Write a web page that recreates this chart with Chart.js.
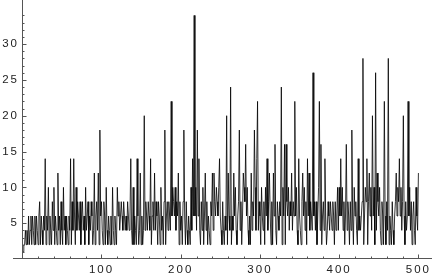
<!DOCTYPE html>
<html>
<head>
  <title>Sequence plot</title>
  <style>
    body { margin: 0; background: #fff; }
  </style>
  <script src="https://cdn.jsdelivr.net/npm/chart.js"></script>
</head>
<body>
  <canvas id="chart" width="432" height="274"></canvas>
  <script>
    // values, 50 per row (n = 1..500)
    const vals1 = [1,2,2,4,2,4,2,6,2,4, 6,2,6,4,2,6,2,6,4,2, 6,8,2,6,4,2,6,4,14,2, 6,4,10,2,6,4,2,8,4,10, 2,6,4,2,12,4,6,2,8,4];
    const vals2 = [2,10,4,6,2,6,4,2,6,4, 14,2,8,4,14,6,2,10,4,8, 6,4,8,2,6,8,4,6,2,10, 4,6,8,2,6,4,8,6,2,4, 12,2,6,8,4,12,2,18,6,8];
    const vals3 = [4,2,8,6,2,10,4,2,6,4, 2,6,2,10,4,2,6,4,2,10, 6,8,4,6,8,6,4,8,6,4, 6,4,8,6,4,6,14,4,2,10, 2,6,4,2,14,6,2,4,12,2];
    const vals4 = [6,2,4,20,4,8,6,4,8,6, 4,14,2,6,8,4,12,4,8,6, 2,8,6,2,10,4,6,2,8,18, 2,6,8,4,8,6,4,22,6,10, 8,6,10,4,8,6,12,2,8,4];
    const vals5 = [6,2,8,18,6,2,8,4,2,6, 4,2,10,4,14,6,34,6,10,4, 18,6,14,4,2,8,4,10,2,6, 12,4,8,2,6,4,2,8,6,12, 4,12,8,6,10,8,6,10,14,6];
    const vals6 = [4,2,8,4,2,6,4,20,2,12, 6,4,24,2,6,4,12,6,10,4, 2,6,8,18,4,8,2,6,12,10, 8,16,6,10,4,2,6,2,12,4, 8,6,18,10,4,14,22,4,8,6];
    const vals7 = [2,10,6,4,8,2,10,6,14,4, 8,12,6,2,8,2,12,6,16,4, 2,8,6,4,8,6,24,2,10,6, 16,2,16,8,6,10,4,8,6,12, 4,8,6,22,6,10,4,2,14,6];
    const vals8 = [4,2,8,12,6,10,4,8,2,14, 6,12,4,8,6,4,26,6,8,4, 8,2,6,10,22,4,16,2,6,8, 4,14,6,2,4,8,6,4,8,6, 4,8,6,2,8,4,6,10,4,10];
    const vals9 = [6,14,6,10,4,8,2,6,16,4, 8,6,2,8,4,18,6,2,10,6, 8,4,2,14,4,6,4,6,8,28, 2,6,10,8,14,2,8,12,6,10, 4,20,6,10,2,26,4,12,8,6];
    const vals10 = [10,4,2,8,6,2,22,6,2,8, 4,28,2,6,4,2,8,4,2,6, 8,12,6,10,8,14,6,10,4,8, 20,6,2,8,4,6,22,6,10,4, 8,2,6,8,4,2,10,6,4,12];
    const values = [].concat(vals1, vals2, vals3, vals4, vals5, vals6, vals7, vals8, vals9, vals10);

    const xTicks = [100, 200, 300, 400, 500];
    const yTicks = [5, 10, 15, 20, 25, 30];
    const xMinor = [20, 40, 60, 80, 120, 140, 160, 180, 220, 240, 260, 280, 320, 340, 360, 380, 420, 440, 460, 480];
    const yMinor = [1, 2, 3, 4, 6, 7, 8, 9, 11, 12, 13, 14, 16, 17, 18, 19, 21, 22, 23, 24, 26, 27, 28, 29, 31, 32, 33, 34];

    const points = values.map((v, i) => ({x: i + 1, y: v}));

    // Mathematica-like axes crossing at the origin, ticks pointing inward
    const axesPlugin = {
      id: 'mmaAxes',
      beforeDraw(chart) {
        chart.ctx.letterSpacing = '2px';
      },
      afterDatasetsDraw(chart) {
        const ctx = chart.ctx;
        const xs = chart.scales.x, ys = chart.scales.y;
        const x0 = Math.round(xs.getPixelForValue(0)) + 0.5;
        const y0 = Math.round(ys.getPixelForValue(0)) - 0.5;
        ctx.save();
        ctx.strokeStyle = '#555';
        ctx.lineWidth = 1;
        ctx.beginPath();
        ctx.moveTo(13, y0); ctx.lineTo(chart.width, y0);
        ctx.moveTo(x0, 0); ctx.lineTo(x0, y0);
        xTicks.forEach(t => {
          const px = Math.round(xs.getPixelForValue(t)) + 0.5;
          ctx.moveTo(px, y0); ctx.lineTo(px, y0 - 4);
        });
        xMinor.forEach(t => {
          const px = Math.round(xs.getPixelForValue(t)) + 0.5;
          ctx.moveTo(px, y0); ctx.lineTo(px, y0 - 2);
        });
        yTicks.forEach(t => {
          const py = Math.round(ys.getPixelForValue(t)) + 0.5;
          ctx.moveTo(x0, py); ctx.lineTo(x0 + 4, py);
        });
        yMinor.forEach(t => {
          const py = Math.round(ys.getPixelForValue(t)) + 0.5;
          ctx.moveTo(x0, py); ctx.lineTo(x0 + 2, py);
        });
        ctx.stroke();
        ctx.restore();
      }
    };

    const tickFont = {family: 'Liberation Sans', size: 11.5};

    new Chart(document.getElementById('chart').getContext('2d'), {
      type: 'line',
      data: {
        datasets: [{
          data: points,
          borderColor: '#000',
          borderWidth: 0.8,
          pointRadius: 0,
          tension: 0,
          fill: false
        }]
      },
      options: {
        responsive: false,
        animation: false,
        layout: {padding: 0},
        plugins: {legend: {display: false}, tooltip: {enabled: false}},
        scales: {
          x: {
            type: 'linear',
            min: -0.3,
            max: 517,
            grid: {display: false, drawTicks: false},
            border: {display: false},
            afterBuildTicks: s => { s.ticks = xTicks.map(v => ({value: v})); },
            afterFit: s => { s.height = 15; },
            ticks: {color: '#222', font: tickFont, padding: 4, maxRotation: 0, autoSkip: false}
          },
          y: {
            min: 0,
            max: 34.77,
            grid: {display: false, drawTicks: false},
            border: {display: false},
            afterBuildTicks: s => { s.ticks = yTicks.map(v => ({value: v})); },
            afterFit: s => { s.width = 22; },
            ticks: {color: '#222', font: tickFont, padding: 3, autoSkip: false}
          }
        }
      },
      plugins: [axesPlugin]
    });
  </script>
</body>
</html>
